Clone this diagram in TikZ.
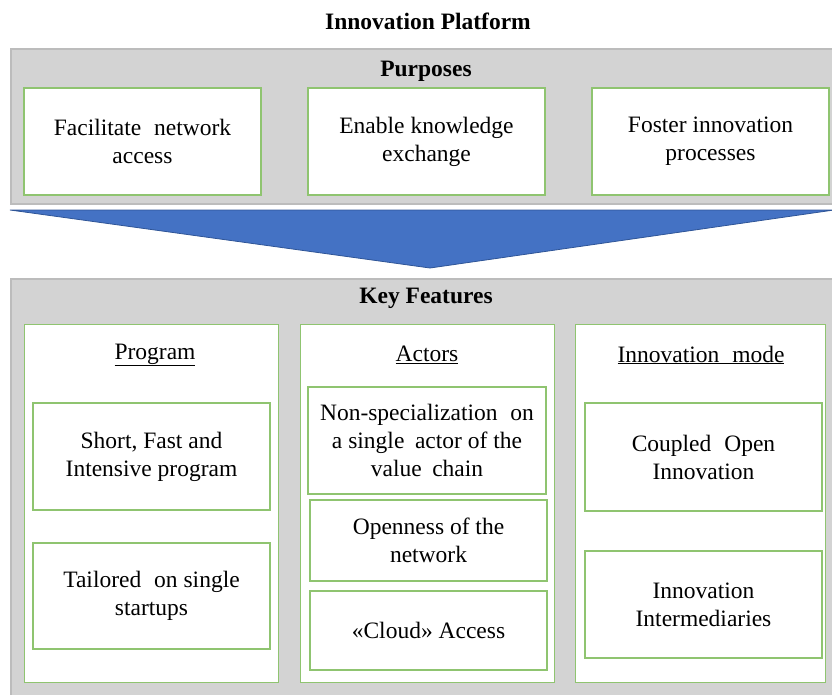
\documentclass[tikz,border=0pt]{standalone}
\usepackage{fontspec}
\setmainfont{Liberation Serif}
\begin{document}
\begin{tikzpicture}[x=1pt,y=-1pt,
  every node/.style={font=\fontsize{23.5}{28}\selectfont, align=center, inner sep=0pt},
  panel/.style={fill=panelfill, draw=panelline, line width=1.6pt},
  gbox/.style={draw=boxgreen, line width=1.3pt, fill=white},
  heading/.style={font=\fontsize{23.5}{28}\selectfont\bfseries},
  coltitle/.style={font=\fontsize{23.5}{28}\selectfont}
]
\definecolor{panelfill}{RGB}{211,211,211}
\definecolor{panelline}{RGB}{188,188,188}
\definecolor{boxgreen}{RGB}{143,196,112}
\definecolor{arrowblue}{RGB}{68,114,196}
\definecolor{arrowedge}{RGB}{47,85,151}

\useasboundingbox (0,0) rectangle (832,694);
\clip (0,0) rectangle (832,694);

% title
\node[heading] (title) at (428,21) {Innovation Platform};

% purposes panel
\node[panel, minimum width=830pt, minimum height=155pt, anchor=north west] (purp) at (10,48) {};
\node[heading] (purph) at (426,71) {Purposes};
\node[gbox, minimum width=237pt, minimum height=107pt] (p1) at (142.5,141.5) {Facilitate\hspace{0.3em} network\\access};
\node[gbox, minimum width=237pt, minimum height=107pt] (p2) at (426.5,141.5) {Enable knowledge\\exchange};
\node[gbox, minimum width=237pt, minimum height=107pt] (p3) at (710.5,141.5) {Foster innovation\\processes};

% downward arrow
\coordinate (al) at (10,210);
\coordinate (ar) at (834,210);
\coordinate (tip) at (430,268);
\fill[arrowblue, draw=arrowedge, line width=0.8pt] (al) -- (ar) -- (tip) -- cycle;

% key features panel
\node[panel, minimum width=830pt, minimum height=430pt, anchor=north west] (feat) at (10,278) {};
\node[heading] (feath) at (426,298) {Key Features};

% columns
\node[gbox, minimum width=254pt, minimum height=358pt, anchor=north west] (c1) at (24,324) {};
\node[gbox, minimum width=254pt, minimum height=358pt, anchor=north west] (c2) at (300,324) {};
\node[gbox, minimum width=250pt, minimum height=358pt, anchor=north west] (c3) at (575,324) {};

\node[coltitle] (c1h) at (155,355) {\underline{Program}};
\node[coltitle] (c2h) at (427,355) {\underline{Actors}};
\node[coltitle] (c3h) at (701,355) {\underline{Innovation\hspace{0.3em} mode}};

% program
\node[gbox, minimum width=237pt, minimum height=107pt] (pr1) at (151.5,456.5) {Short, Fast and\\Intensive program};
\node[gbox, minimum width=237pt, minimum height=106pt] (pr2) at (151.5,596) {Tailored\hspace{0.3em} on single\\startups};

% actors
\node[gbox, minimum width=238pt, minimum height=107pt] (a1) at (427,440.5) {Non-specialization\hspace{0.3em} on\\a single\hspace{0.2em} actor of the\\value\hspace{0.2em} chain};
\node[gbox, minimum width=237pt, minimum height=81pt] (a2) at (428.5,540.5) {Openness of the\\network};
\node[gbox, minimum width=237pt, minimum height=79pt] (a3) at (428.5,630.5) {«Cloud» Access};

% innovation mode
\node[gbox, minimum width=237pt, minimum height=108pt] (m1) at (703.5,457) {Coupled\hspace{0.3em} Open\\Innovation};
\node[gbox, minimum width=237pt, minimum height=107pt] (m2) at (703.5,604.5) {Innovation\\Intermediaries};
\end{tikzpicture}
\end{document}
